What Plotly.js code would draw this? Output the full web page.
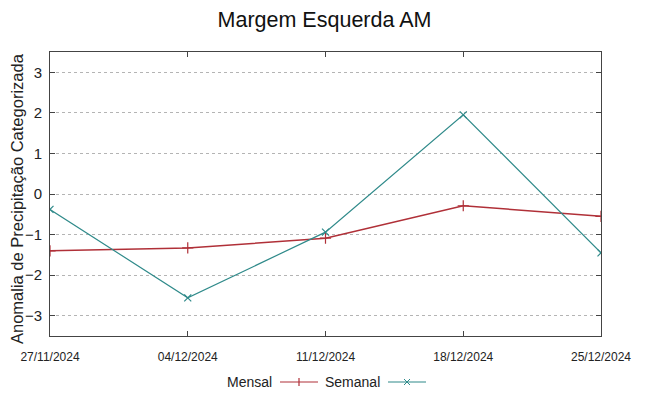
<!DOCTYPE html>
<html>
<head>
<meta charset="utf-8">
<script src="https://cdn.plot.ly/plotly-3.0.1.min.js"></script>
<style>html,body{margin:0;padding:0;background:#fff;}#chart{width:649px;height:396px;}</style>
</head>
<body>
<div id="chart"></div>
<script>
const dates = ["2024-11-27", "2024-12-04", "2024-12-11", "2024-12-18", "2024-12-25"];
const tickLabels = ["27/11/2024", "04/12/2024", "11/12/2024", "18/12/2024", "25/12/2024"];
const mensal = [-1.40, -1.33, -1.09, -0.29, -0.55];
const semanal = [-0.38, -2.56, -0.94, 1.95, -1.45];
const yTicks = [-3, -2, -1, 0, 1, 2, 3];

const red = "#b03038";
const teal = "#2f8a8a";

const traces = [
  {x: dates, y: mensal, name: "Mensal", type: "scatter", mode: "lines+markers",
   line: {color: red, width: 1.5}, marker: {symbol: "cross-thin", size: 8, line: {color: red, width: 1.2}}},
  {x: dates, y: semanal, name: "Semanal", type: "scatter", mode: "lines+markers",
   line: {color: teal, width: 1.2}, marker: {symbol: "x-thin", size: 7, line: {color: teal, width: 1.2}}}
];

const W = 649, H = 396, L = 50, R = 48, T = 52, B = 60;
const pw = W - L - R, ph = H - T - B;
const px = v => (v - L) / pw;
const py = v => (H - B - v) / ph;
const legY = 382;
const shapes = [
  {type: "line", xref: "paper", yref: "paper", x0: px(280), x1: px(318), y0: py(legY), y1: py(legY), line: {color: red, width: 1.2}},
  {type: "line", xref: "paper", yref: "paper", x0: px(299), x1: px(299), y0: py(legY - 4), y1: py(legY + 4), line: {color: red, width: 1.2}},
  {type: "line", xref: "paper", yref: "paper", x0: px(388), x1: px(426), y0: py(legY), y1: py(legY), line: {color: teal, width: 1.2}},
  {type: "line", xref: "paper", yref: "paper", x0: px(404), x1: px(410), y0: py(legY - 3), y1: py(legY + 3), line: {color: teal, width: 1}},
  {type: "line", xref: "paper", yref: "paper", x0: px(404), x1: px(410), y0: py(legY + 3), y1: py(legY - 3), line: {color: teal, width: 1}}
];
const annotations = [
  {text: "Mensal", xref: "paper", yref: "paper", x: px(274), y: py(legY), xanchor: "right", yanchor: "middle", showarrow: false, font: {family: "Liberation Sans, Arial", size: 14, color: "#222"}},
  {text: "Semanal", xref: "paper", yref: "paper", x: px(382), y: py(legY), xanchor: "right", yanchor: "middle", showarrow: false, font: {family: "Liberation Sans, Arial", size: 14, color: "#222"}},
  {text: "Anomalia de Precipitação Categorizada", xref: "paper", yref: "paper", x: px(17), y: py(199), xanchor: "center", yanchor: "middle", textangle: -90, showarrow: false, borderpad: 0, font: {family: "Liberation Sans, Arial", size: 16.5, color: "#222"}}
];

const layout = {
  width: W, height: H,
  margin: {l: L, r: R, t: T, b: B},
  paper_bgcolor: "#fff", plot_bgcolor: "#fff",
  showlegend: false,
  font: {family: "Liberation Sans, Arial", color: "#222"},
  title: {text: "Margem Esquerda AM", x: 0.5, xanchor: "center", y: 0.95, yanchor: "middle", font: {size: 21.5, color: "#111"}},
  xaxis: {
    type: "date", range: [dates[0], dates[dates.length - 1]],
    tickvals: dates, ticktext: tickLabels,
    ticks: "inside", ticklen: 5, tickcolor: "#444", mirror: "allticks",
    showline: true, linecolor: "#444", linewidth: 1,
    showgrid: false, zeroline: false,
    ticklabelstandoff: 10,
    tickfont: {family: "Liberation Sans Narrow, Liberation Sans, Arial", size: 12, color: "#222"}
  },
  yaxis: {
    range: [-3.5, 3.5], tickvals: yTicks,
    ticks: "inside", ticklen: 5, tickcolor: "#444", mirror: "allticks",
    showline: true, linecolor: "#444", linewidth: 1,
    showgrid: true, gridcolor: "#b4b4b4", griddash: "dot", gridwidth: 1,
    zeroline: false,
    ticklabelstandoff: 4,
    tickfont: {size: 15, color: "#222"}
  },
  shapes: shapes,
  annotations: annotations
};

Plotly.newPlot("chart", traces, layout, {displayModeBar: false, staticPlot: true});
</script>
</body>
</html>
